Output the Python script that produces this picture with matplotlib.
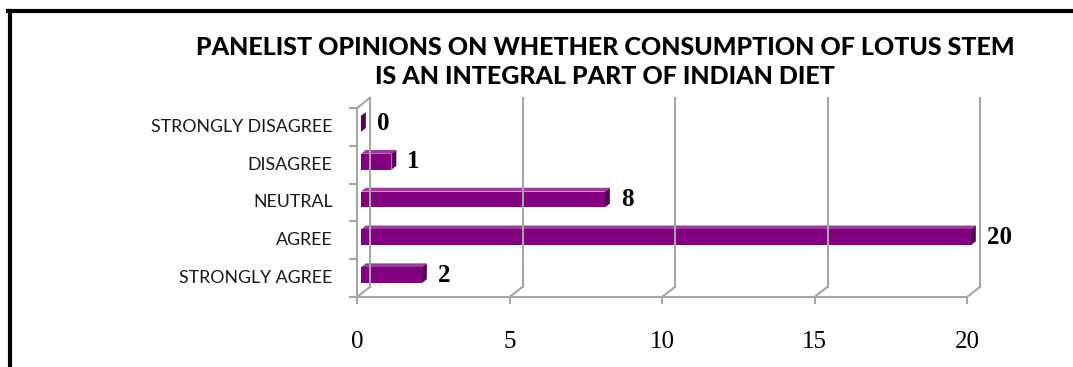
import matplotlib
matplotlib.use("Agg")
import matplotlib.pyplot as plt
from matplotlib.patches import Polygon
from matplotlib.lines import Line2D

# survey answers, bottom to top
categories = ["STRONGLY AGREE", "AGREE", "NEUTRAL", "DISAGREE", "STRONGLY DISAGREE"]
counts = [2, 20, 8, 1, 0]
x_ticks = [0, 5, 10, 15, 20]
title = "PANELIST OPINIONS ON WHETHER CONSUMPTION OF LOTUS STEM\nIS AN INTEGRAL PART OF INDIAN DIET"

W, H = 1073, 367
fig = plt.figure(figsize=(W / 100, H / 100), dpi=100)
fig.patch.set_facecolor("white")

ax = fig.add_axes([357 / W, 70 / H, 610 / W, 189 / H])
ax.set_xlim(0, 20)
ax.set_ylim(-0.5, 4.5)
ax.axis("off")

grid_c = "#a6a6a6"
# depth of the back wall and of the bars, in data units
BX, BY = 0.43, 0.27
OX, OY = 0.13, 0.08
DX, DY = 0.16, 0.10
bh = 0.42

lo, hi = -0.5, len(categories) - 0.5

# back wall gridlines and floor edges
for g in x_ticks:
    ax.plot([g + BX, g + BX], [lo + BY, hi + BY], color=grid_c, lw=1.5, clip_on=False)
    ax.plot([g, g + BX], [lo, lo + BY], color=grid_c, lw=1.5, clip_on=False)
    ax.plot([g, g], [lo, lo - 0.17], color=grid_c, lw=1.5, clip_on=False)

# front floor line and left wall
ax.plot([0, 20], [lo, lo], color=grid_c, lw=1.5, clip_on=False)
ax.plot([0, 0], [lo, hi], color=grid_c, lw=1.5, clip_on=False)
ax.plot([0, BX], [hi, hi + BY], color=grid_c, lw=1.5, clip_on=False)
for k in range(len(categories) + 1):
    ax.plot([-0.23, 0], [lo + k, lo + k], color=grid_c, lw=1.5, clip_on=False)

# bars with top and side faces
for i, v in enumerate(counts):
    y0 = i + OY - bh / 2
    y1 = i + OY + bh / 2
    x0 = OX
    x1 = OX + v
    top = Polygon([(x0, y1), (x1, y1), (x1 + DX, y1 + DY), (x0 + DX, y1 + DY)],
                  closed=True, facecolor="#9a3c9a", edgecolor="none", clip_on=False)
    side = Polygon([(x1, y0), (x1, y1), (x1 + DX, y1 + DY), (x1 + DX, y0 + DY)],
                   closed=True, facecolor="#560056", edgecolor="none", clip_on=False)
    ax.add_patch(top)
    ax.add_patch(side)
    ax.barh(i + OY, v, left=OX, height=bh, color="#800080", edgecolor="none", clip_on=False)
    ax.text(x1 + DX + 0.36, i + OY, str(v), ha="left", va="center",
            fontsize=18, fontweight="bold", family="Liberation Serif", clip_on=False)

# category labels
for i, c in enumerate(categories):
    ax.text(-0.8, i, c, ha="right", va="center", fontsize=12.8, family="Lato",
            color="#1a1a1a")

# value axis labels
for g in x_ticks:
    ax.text(g, lo - 1.2, str(g), ha="center", va="center", fontsize=18,
            family="Liberation Serif")

fig.text(605 / W, 1 - 62 / H, title, ha="center", va="center", fontsize=18,
         fontweight="black", family="Lato", linespacing=1.3)

# outer frame
fig.add_artist(Line2D([9.5 / W, 9.5 / W], [0, 1 - 11 / H], color="black", lw=3,
                      transform=fig.transFigure))
fig.add_artist(Line2D([8 / W, 1], [1 - 11 / H, 1 - 11 / H], color="black", lw=3,
                      transform=fig.transFigure))

fig.savefig("out.png", dpi=100)
